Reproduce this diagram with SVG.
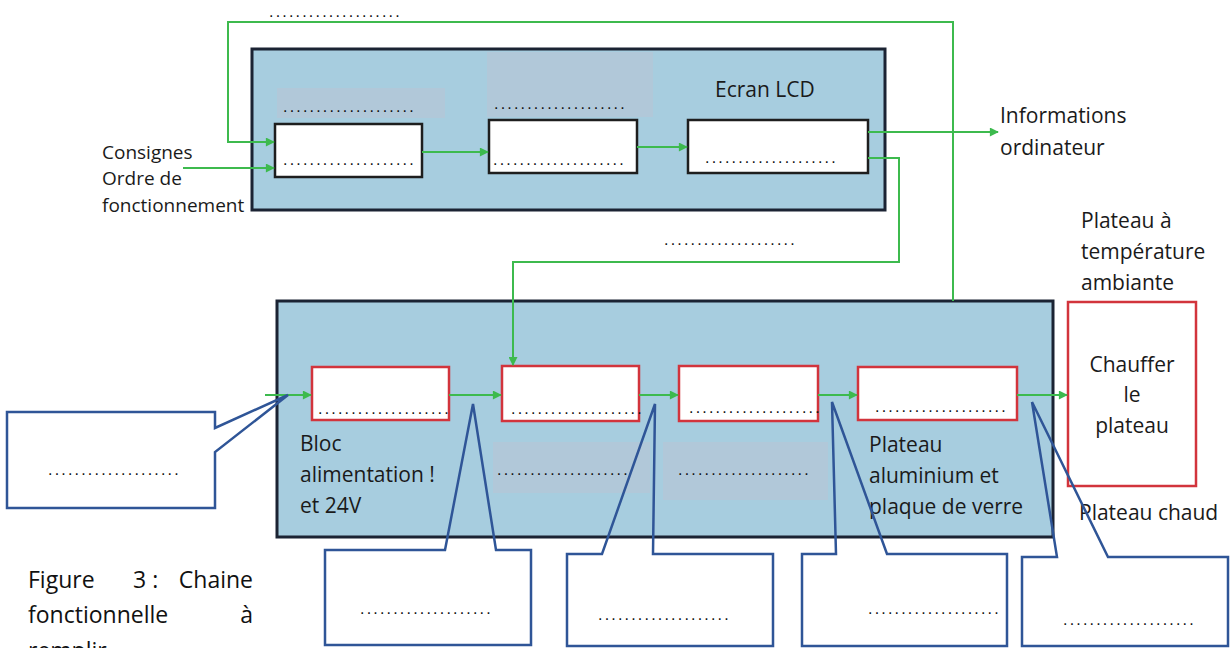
<svg xmlns="http://www.w3.org/2000/svg" width="1232" height="648" viewBox="0 0 1232 648">
  <style>
    .lbl { font-family: "Open Sans", "Liberation Sans", sans-serif; font-size: 21px; fill: #1a1a1a; }
    .side { font-family: "Open Sans", "Liberation Sans", sans-serif; font-size: 19px; fill: #1a1a1a; }
    .cap { font-family: "Open Sans", "Liberation Sans", sans-serif; font-size: 23px; fill: #111; }
    .dots { font-family: "Liberation Sans", sans-serif; font-size: 16px; letter-spacing: 2.2px; fill: #111; }
    .group { fill: #a7cddf; stroke: #1b2333; stroke-width: 3; }
    .patch { fill: #b1c8d9; }
    .blk { fill: #fff; stroke: #1e1e1e; stroke-width: 2.5; }
    .red { fill: #fff; stroke: #d2343c; stroke-width: 2.5; }
    .flow { fill: none; stroke: #3dba4e; stroke-width: 2; }
    .callout { fill: none; stroke: #2f5597; stroke-width: 2.5; stroke-linejoin: miter; }
  </style>
  <defs>
    <marker id="arrow" viewBox="0 0 10 10" refX="9" refY="5" markerWidth="10" markerHeight="9" markerUnits="userSpaceOnUse" orient="auto">
      <path d="M0,0 L10,5 L0,10 Z" fill="#3dba4e"/>
    </marker>
  </defs>

  <rect width="1232" height="648" fill="#fff"/>

  <!-- Upper group: information processing -->
  <g id="group-top">
    <rect class="group" x="252" y="49" width="633" height="161"/>
    <rect class="patch" x="277" y="88" width="168" height="30"/>
    <rect class="patch" x="487" y="52" width="166" height="65"/>
    <text class="lbl" x="715" y="97">Ecran LCD</text>
    <text class="dots" x="283" y="112">....................</text>
    <text class="dots" x="494" y="109">....................</text>
  </g>

  <g id="node-t1">
    <rect class="blk" x="275" y="124" width="147" height="53"/>
    <text class="dots" x="283" y="165">....................</text>
  </g>
  <g id="node-t2">
    <rect class="blk" x="489" y="120" width="148" height="53"/>
    <text class="dots" x="493" y="165">....................</text>
  </g>
  <g id="node-t3">
    <rect class="blk" x="688" y="120" width="180" height="53"/>
    <text class="dots" x="705" y="163">....................</text>
  </g>

  <!-- Lower group: power chain -->
  <g id="group-bottom">
    <rect class="group" x="277" y="301" width="776" height="236"/>
    <rect class="patch" x="493" y="442" width="157" height="51"/>
    <rect class="patch" x="663" y="442" width="165" height="58"/>
    <text class="lbl" x="300" y="451">Bloc</text>
    <text class="lbl" x="300" y="482">alimentation !</text>
    <text class="lbl" x="300" y="513">et 24V</text>
    <text class="dots" x="497" y="475">....................</text>
    <text class="dots" x="678" y="475">....................</text>
    <text class="lbl" x="869" y="452">Plateau</text>
    <text class="lbl" x="869" y="483">aluminium et</text>
    <text class="lbl" x="869" y="514">plaque de verre</text>
  </g>

  <g id="node-b1">
    <rect class="red" x="312" y="367" width="137" height="53"/>
    <text class="dots" x="318" y="414">....................</text>
  </g>
  <g id="node-b2">
    <rect class="red" x="502" y="366" width="137" height="55"/>
    <text class="dots" x="511" y="414">....................</text>
  </g>
  <g id="node-b3">
    <rect class="red" x="679" y="366" width="139" height="55"/>
    <text class="dots" x="689" y="413">....................</text>
  </g>
  <g id="node-b4">
    <rect class="red" x="858" y="367" width="159" height="53"/>
    <text class="dots" x="875" y="412">....................</text>
  </g>
  <g id="node-chauffer">
    <rect class="red" x="1068" y="302" width="128" height="184"/>
    <text class="lbl" x="1132" y="372" text-anchor="middle">Chauffer</text>
    <text class="lbl" x="1132" y="402" text-anchor="middle">le</text>
    <text class="lbl" x="1132" y="433" text-anchor="middle">plateau</text>
  </g>

  <!-- Free labels -->
  <g id="labels">
    <text class="dots" x="269" y="17">....................</text>
    <text class="side" x="102" y="159">Consignes</text>
    <text class="side" x="102" y="185">Ordre de</text>
    <text class="side" x="102" y="212">fonctionnement</text>
    <text class="lbl" x="1000" y="123">Informations</text>
    <text class="lbl" x="1000" y="155">ordinateur</text>
    <text class="dots" x="664" y="245">....................</text>
    <text class="lbl" x="1081" y="228">Plateau à</text>
    <text class="lbl" x="1081" y="259">température</text>
    <text class="lbl" x="1081" y="290">ambiante</text>
    <text class="lbl" x="1079" y="520">Plateau chaud</text>
    <text class="cap" x="28" y="588">Figure</text>
    <text class="cap" x="133" y="588">3 :</text>
    <text class="cap" x="253" y="588" text-anchor="end">Chaine</text>
    <text class="cap" x="28" y="623">fonctionnelle</text>
    <text class="cap" x="253" y="623" text-anchor="end">à</text>
    <text class="cap" x="28" y="659">remplir</text>
  </g>

  <!-- Flow connectors -->
  <g id="connectors">
    <path class="flow" d="M953,301 V22 H228 V142 H274" marker-end="url(#arrow)"/>
    <path class="flow" d="M183,168 H274" marker-end="url(#arrow)"/>
    <path class="flow" d="M422,152 H488" marker-end="url(#arrow)"/>
    <path class="flow" d="M637,147 H687" marker-end="url(#arrow)"/>
    <path class="flow" d="M868,132 H998" marker-end="url(#arrow)"/>
    <path class="flow" d="M868,158 H899 V262 H513 V365" marker-end="url(#arrow)"/>
    <path class="flow" d="M265,395 H311" marker-end="url(#arrow)"/>
    <path class="flow" d="M449,395 H501" marker-end="url(#arrow)"/>
    <path class="flow" d="M639,395 H678" marker-end="url(#arrow)"/>
    <path class="flow" d="M818,395 H857" marker-end="url(#arrow)"/>
    <path class="flow" d="M1017,395 H1067" marker-end="url(#arrow)"/>
  </g>

  <!-- Answer callouts -->
  <g id="callout-1">
    <path class="callout" d="M7,412 H215 V428 L288,395 L215,452 V508 H7 Z"/>
    <text class="dots" x="48" y="475">....................</text>
  </g>
  <g id="callout-2">
    <path class="callout" d="M325,550 H445 L473,404 L496,550 H531 V645 H325 Z"/>
    <text class="dots" x="360" y="614">....................</text>
  </g>
  <g id="callout-3">
    <path class="callout" d="M567,554 H602 L655,404 L653,554 H773 V646 H567 Z"/>
    <text class="dots" x="598" y="620">....................</text>
  </g>
  <g id="callout-4">
    <path class="callout" d="M802,554 H836 L832,402 L887,554 H1007 V646 H802 Z"/>
    <text class="dots" x="868" y="614">....................</text>
  </g>
  <g id="callout-5">
    <path class="callout" d="M1022,557 H1057 L1032,402 L1108,557 H1228 V646 H1022 Z"/>
    <text class="dots" x="1063" y="625">....................</text>
  </g>
</svg>
